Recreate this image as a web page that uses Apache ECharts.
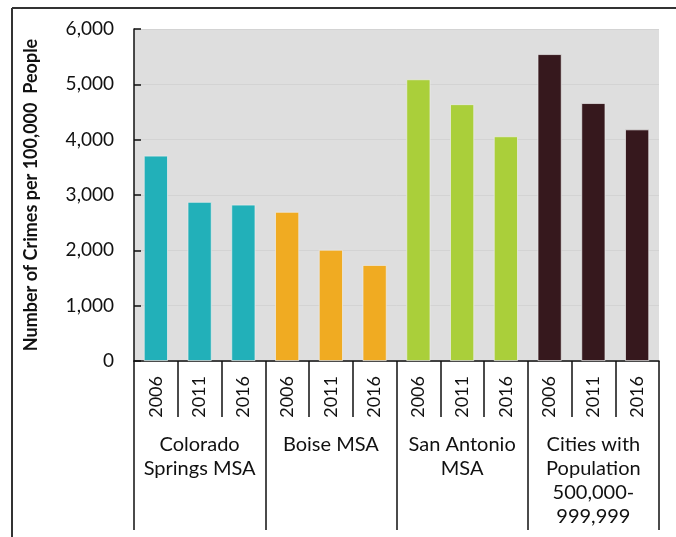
<!DOCTYPE html>
<html>
<head>
<meta charset="utf-8">
<script src="https://cdn.jsdelivr.net/npm/echarts@6/dist/echarts.min.js"></script>
<style>
  html, body { margin: 0; padding: 0; background: #ffffff; }
  #chart { width: 676px; height: 537px; }
</style>
</head>
<body>
<div id="chart"></div>
<script>
// Crime rates per 100,000 people, by area and year
const groups = ['Colorado\nSprings MSA', 'Boise MSA', 'San Antonio\nMSA', 'Cities with\nPopulation\n500,000-\n999,999'];
const years = ['2006', '2011', '2016'];
const coloradoSprings = [3710, 2875, 2825];
const boise = [2695, 2010, 1735];
const sanAntonio = [5090, 4640, 4060];
const largeCities = [5545, 4660, 4185];
const groupColors = ['#22B0B9', '#F0AB22', '#AACF3A', '#36181D'];
const yTicks = { min: 0, max: 6000, interval: 1000 };

const groupValues = [coloradoSprings, boise, sanAntonio, largeCities];
const yearCategories = [];
const barData = [];
groupValues.forEach(function (vals, g) {
  vals.forEach(function (v, i) {
    yearCategories.push(years[i]);
    barData.push({ value: v, itemStyle: { color: groupColors[g] } });
  });
});

const font = 'Lato';
const chart = echarts.init(document.getElementById('chart'), null, { renderer: 'canvas' });
chart.setOption({
  animation: false,
  textStyle: { fontFamily: font },
  grid: {
    left: 134, right: 17, top: 29, bottom: 176,
    show: true, backgroundColor: '#dedede', borderWidth: 0
  },
  xAxis: [
    {
      type: 'category',
      data: yearCategories,
      position: 'bottom',
      axisLine: { show: true, lineStyle: { color: '#111', width: 1.5 } },
      axisTick: { show: true, interval: 0, length: 56, lineStyle: { color: '#111', width: 1.5 } },
      axisLabel: { interval: 0, rotate: 90, margin: 15, fontSize: 18, color: '#111', fontFamily: font }
    },
    {
      type: 'category',
      data: groups,
      position: 'bottom',
      offset: 0,
      axisLine: { show: false },
      axisTick: { show: true, interval: 0, length: 169, lineStyle: { color: '#111', width: 1.5 } },
      axisLabel: { interval: 0, margin: 72, fontSize: 20, lineHeight: 24, color: '#111', fontFamily: font, align: 'center' }
    }
  ],
  yAxis: {
    type: 'value',
    min: yTicks.min, max: yTicks.max, interval: yTicks.interval,
    name: 'Number of Crimes per 100,000  People',
    nameLocation: 'middle',
    nameGap: 94,
    nameRotate: 90,
    nameTextStyle: { fontSize: 18, fontWeight: 'bold', color: '#111', fontFamily: font },
    axisLine: { show: true, lineStyle: { color: '#111', width: 1.5 } },
    axisTick: { show: true, inside: true, length: 7, lineStyle: { color: '#111', width: 1.5 } },
    axisLabel: {
      margin: 20, fontSize: 19, color: '#111', fontFamily: font,
      formatter: function (v) { return v.toLocaleString('en-US'); }
    },
    splitLine: { show: true, lineStyle: { color: '#d3d3d3', width: 1 } }
  },
  series: [
    {
      type: 'bar',
      xAxisIndex: 0,
      data: barData,
      barWidth: '55%',
      itemStyle: { borderColor: 'rgba(235,235,235,0.9)', borderWidth: 0.8 }
    }
  ],
  graphic: [
    { type: 'line', shape: { x1: 12, y1: 8, x2: 676, y2: 8 }, style: { stroke: '#333', lineWidth: 2 } },
    { type: 'line', shape: { x1: 12, y1: 8, x2: 12, y2: 537 }, style: { stroke: '#333', lineWidth: 2 } }
  ]
});
</script>
</body>
</html>
